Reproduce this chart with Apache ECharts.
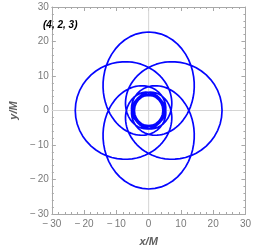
<!DOCTYPE html>
<html>
<head>
<meta charset="utf-8">
<script src="https://cdn.jsdelivr.net/npm/echarts@6/dist/echarts.min.js"></script>
<style>
  html, body { margin: 0; padding: 0; background: #ffffff; }
  #chart { width: 254px; height: 252px; }
</style>
</head>
<body>
<div id="chart"></div>
<script>
// Orbit label and axes
const orbitLabel = '(4, 2, 3)';
const xAxisName = 'x/M';
const yAxisName = 'y/M';
const axisMin = -30;
const axisMax = 30;
const axisStep = 10;

// Azimuth swept from the apoapsis over one radial period (degrees)
const sweepDeg = [
  0, 5, 10, 15, 20, 25, 30, 35, 40, 45, 50, 55, 60, 65, 70, 75, 80, 85, 90, 95,
  100, 105, 110, 115, 120, 125, 130, 135, 140, 145, 150, 155, 160, 165, 170, 175,
  180, 185, 190, 195, 200, 205, 210, 215, 220, 225, 230, 235, 240, 245, 250, 255,
  260, 265, 270, 275, 280, 285, 290, 295, 300,
  315, 330, 345, 360, 375, 390, 405, 420, 435, 450, 465, 480, 495, 510, 525, 540,
  555, 570, 585, 600, 615, 630, 645, 660, 675,
  690, 705, 720, 735, 750, 765, 780, 795, 810, 825, 840, 855, 870, 885, 900, 915,
  930, 945, 960, 975, 990, 1005, 1020, 1035, 1050,
  1055, 1060, 1065, 1070, 1075, 1080, 1085, 1090, 1095, 1100, 1105, 1110, 1115,
  1120, 1125, 1130, 1135, 1140, 1145, 1150, 1155, 1160, 1165, 1170, 1175, 1180,
  1185, 1190, 1195, 1200, 1205, 1210, 1215, 1220, 1225, 1230, 1235, 1240, 1245,
  1250, 1255, 1260, 1265, 1270, 1275, 1280, 1285, 1290, 1295, 1300, 1305, 1310,
  1315, 1320, 1325, 1330, 1335, 1340, 1345, 1350
];

// Radial distance r/M at each sweep angle (apoapsis -> whirl -> apoapsis)
const radiusM = [
  22.75, 22.68, 22.49, 22.17, 21.74, 21.21, 20.61, 19.95, 19.24, 18.51, 17.77, 17.03,
  16.30, 15.59, 14.91, 14.25, 13.63, 13.04, 12.48, 11.96, 11.47, 11.01, 10.58, 10.18,
  9.81, 9.46, 9.14, 8.84, 8.56, 8.30, 8.06, 7.83, 7.62, 7.43, 7.24, 7.07,
  6.92, 6.77, 6.63, 6.50, 6.38, 6.27, 6.16, 6.06, 5.97, 5.88, 5.79, 5.72,
  5.64, 5.58, 5.51, 5.45, 5.39, 5.34, 5.29, 5.24, 5.20, 5.16, 5.12, 5.08, 5.04,
  4.95, 4.87, 4.80, 4.74, 4.70, 4.64, 4.60, 4.57, 4.54, 4.51, 4.49, 4.48, 4.46,
  4.45, 4.44, 4.44, 4.43, 4.42, 4.42, 4.42, 4.41, 4.41, 4.41, 4.41, 4.41,
  4.41, 4.41, 4.41, 4.41, 4.42, 4.42, 4.42, 4.43, 4.44, 4.44, 4.45, 4.46, 4.48,
  4.49, 4.51, 4.54, 4.57, 4.60, 4.64, 4.70, 4.74, 4.80, 4.87, 4.95, 5.04,
  5.08, 5.12, 5.16, 5.20, 5.24, 5.29, 5.34, 5.39, 5.45, 5.51, 5.58, 5.64,
  5.72, 5.79, 5.88, 5.97, 6.06, 6.16, 6.27, 6.38, 6.50, 6.63, 6.77, 6.92,
  7.07, 7.24, 7.43, 7.62, 7.83, 8.06, 8.30, 8.56, 8.84, 9.14, 9.46, 9.81,
  10.18, 10.58, 11.01, 11.47, 11.96, 12.48, 13.04, 13.63, 14.25, 14.91, 15.59, 16.30,
  17.03, 17.77, 18.51, 19.24, 19.95, 20.61, 21.21, 21.74, 22.17, 22.49, 22.68, 22.75
];

// Direction of each leaf's apoapsis (degrees), in the order the orbit visits them
const leafApoapsisDeg = [90, 0, -90, 180];

// Zero reference lines
const zeroLineX = [[0, -30], [0, 30]];
const zeroLineY = [[-30, 0], [30, 0]];

// Build the orbit table (x/M, y/M) from the polar readings
const orbit = [];
const n = Math.min(sweepDeg.length, radiusM.length);
leafApoapsisDeg.forEach(function (apo, p) {
  const isLast = p === leafApoapsisDeg.length - 1;
  for (let i = 0; i < n; i++) {
    if (i === n - 1 && !isLast) continue;
    const a = (apo + sweepDeg[i]) * Math.PI / 180;
    orbit.push([radiusM[i] * Math.cos(a), radiusM[i] * Math.sin(a)]);
  }
});

const frameColor = '#a8a8a8';
const labelColor = '#7a7a7a';
const fontFam = '"Liberation Sans", Arial, sans-serif';

function fmt(v) {
  return v < 0 ? '\u2212\u2009' + (-v) : String(v);
}

function frameAxis(kind, position, showLabel, name, nameGap) {
  const ax = {
    type: 'value',
    position: position,
    min: axisMin,
    max: axisMax,
    interval: axisStep,
    axisLine: { show: true, onZero: false, lineStyle: { color: frameColor, width: 1 } },
    axisTick: { show: true, inside: true, length: 4, lineStyle: { color: frameColor, width: 1 } },
    minorTick: { show: true, splitNumber: 5, length: 2, lineStyle: { color: frameColor, width: 1 } },
    splitLine: { show: false },
    minorSplitLine: { show: false },
    axisLabel: {
      show: showLabel,
      formatter: fmt,
      color: labelColor,
      fontSize: 10,
      fontFamily: fontFam,
      margin: kind === 'x' ? 5 : 3,
      showMinLabel: true,
      showMaxLabel: true,
      hideOverlap: false
    }
  };
  if (name) {
    ax.name = name;
    ax.nameLocation = 'middle';
    ax.nameGap = nameGap;
    ax.nameTextStyle = {
      color: '#606060',
      fontSize: 11,
      fontWeight: 'bold',
      fontStyle: 'italic',
      fontFamily: fontFam
    };
  }
  return ax;
}

const chart = echarts.init(document.getElementById('chart'), null, { renderer: 'canvas' });
chart.setOption({
  animation: false,
  backgroundColor: '#ffffff',
  title: {
    text: orbitLabel,
    left: 43,
    top: 20,
    padding: 0,
    textStyle: {
      fontSize: 10,
      fontWeight: 'bold',
      fontStyle: 'italic',
      color: '#000000',
      fontFamily: fontFam
    }
  },
  grid: { left: 40, top: 7, width: 207, height: 208, containLabel: false },
  xAxis: [
    frameAxis('x', 'bottom', true, xAxisName, 22),
    frameAxis('x', 'top', false, null, 0)
  ],
  yAxis: [
    frameAxis('y', 'left', true, yAxisName, 28),
    frameAxis('y', 'right', false, null, 0)
  ],
  series: [
    {
      type: 'line', data: zeroLineX, xAxisIndex: 0, yAxisIndex: 0,
      showSymbol: false, silent: true, z: 1,
      lineStyle: { color: '#d4d4d4', width: 1 }
    },
    {
      type: 'line', data: zeroLineY, xAxisIndex: 0, yAxisIndex: 0,
      showSymbol: false, silent: true, z: 1,
      lineStyle: { color: '#d4d4d4', width: 1 }
    },
    {
      type: 'line', name: orbitLabel, data: orbit, xAxisIndex: 0, yAxisIndex: 0,
      showSymbol: false, smooth: false, z: 3, clip: true,
      lineStyle: { color: '#0505ff', width: 1.7 }
    }
  ]
});
</script>
</body>
</html>
